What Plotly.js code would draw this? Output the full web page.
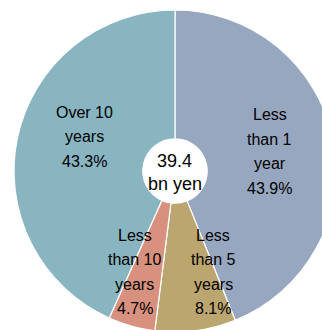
<!DOCTYPE html>
<html>
<head>
<meta charset="utf-8">
<script src="https://cdn.plot.ly/plotly-3.0.1.min.js"></script>
<style>
  html, body { margin: 0; padding: 0; background: #ffffff; overflow: hidden; }
  #chart { width: 340px; height: 340px; }
</style>
</head>
<body>
<div id="chart"></div>
<script>
// Remaining maturity breakdown, total 39.4 bn yen
const categories = ['Less than 1 year', 'Less than 5 years', 'Less than 10 years', 'Over 10 years'];
const labelLines = [['Less', 'than 1', 'year'], ['Less', 'than 5', 'years'], ['Less', 'than 10', 'years'], ['Over 10', 'years']];
const shares = [43.9, 8.1, 4.7, 43.3];
const sliceColors = ['#97A7BF', '#BBA66F', '#D9917F', '#89B5C1'];
const totalLines = ['39.4', 'bn yen'];

const FONT = 'Liberation Sans, Arial, sans-serif';
const pieDomain = { x: [0.0412, 0.9882], y: [0.0235, 0.9706] };

// label placement: fraction of radius along the slice bisector, plus pixel nudges
const labelRadius = 0.6;
const labelNudge = [[0, -1], [26, 5], [-14, 8], [4, -14]];
const lineGap = 24.5;

const trace = {
  type: 'pie',
  labels: categories,
  values: shares,
  sort: false,
  direction: 'clockwise',
  rotation: 0,
  hole: 0.2,
  marker: { colors: sliceColors, line: { color: '#ffffff', width: 1.2 } },
  textinfo: 'none',
  domain: pieDomain,
  showlegend: false,
  hoverinfo: 'none'
};

const total = shares.reduce((a, b) => a + b, 0);
const cx = (pieDomain.x[0] + pieDomain.x[1]) / 2;
const cy = (pieDomain.y[0] + pieDomain.y[1]) / 2;
const R = (pieDomain.x[1] - pieDomain.x[0]) / 2;
const annotations = [];

// stacked lines of text centred on a point, one annotation per line
function addBlock(x, y, lines, dx, dy, gap, size) {
  const n = lines.length;
  lines.forEach((line, j) => {
    annotations.push({
      x: x, y: y, xref: 'paper', yref: 'paper',
      text: line, showarrow: false,
      xanchor: 'center', yanchor: 'middle',
      xshift: dx,
      yshift: -dy - (j - (n - 1) / 2) * gap,
      font: { family: FONT, size: size, color: '#000000' }
    });
  });
}

// slice labels
let cum = 0;
shares.forEach((v, i) => {
  const mid = (cum + v / 2) / total * 2 * Math.PI;
  cum += v;
  const x = cx + labelRadius * R * Math.sin(mid);
  const y = cy + labelRadius * R * Math.cos(mid);
  const lines = labelLines[i].concat([(v / total * 100).toFixed(1) + '%']);
  addBlock(x, y, lines, labelNudge[i][0], labelNudge[i][1], lineGap, 16);
});

// total in the hole
addBlock(cx, cy, totalLines, 0, 1, 23, 18);

const layout = {
  width: 340,
  height: 340,
  margin: { l: 0, r: 0, t: 0, b: 0 },
  paper_bgcolor: '#ffffff',
  showlegend: false,
  annotations: annotations
};

Plotly.newPlot('chart', [trace], layout, { displayModeBar: false, staticPlot: true });
</script>
</body>
</html>
